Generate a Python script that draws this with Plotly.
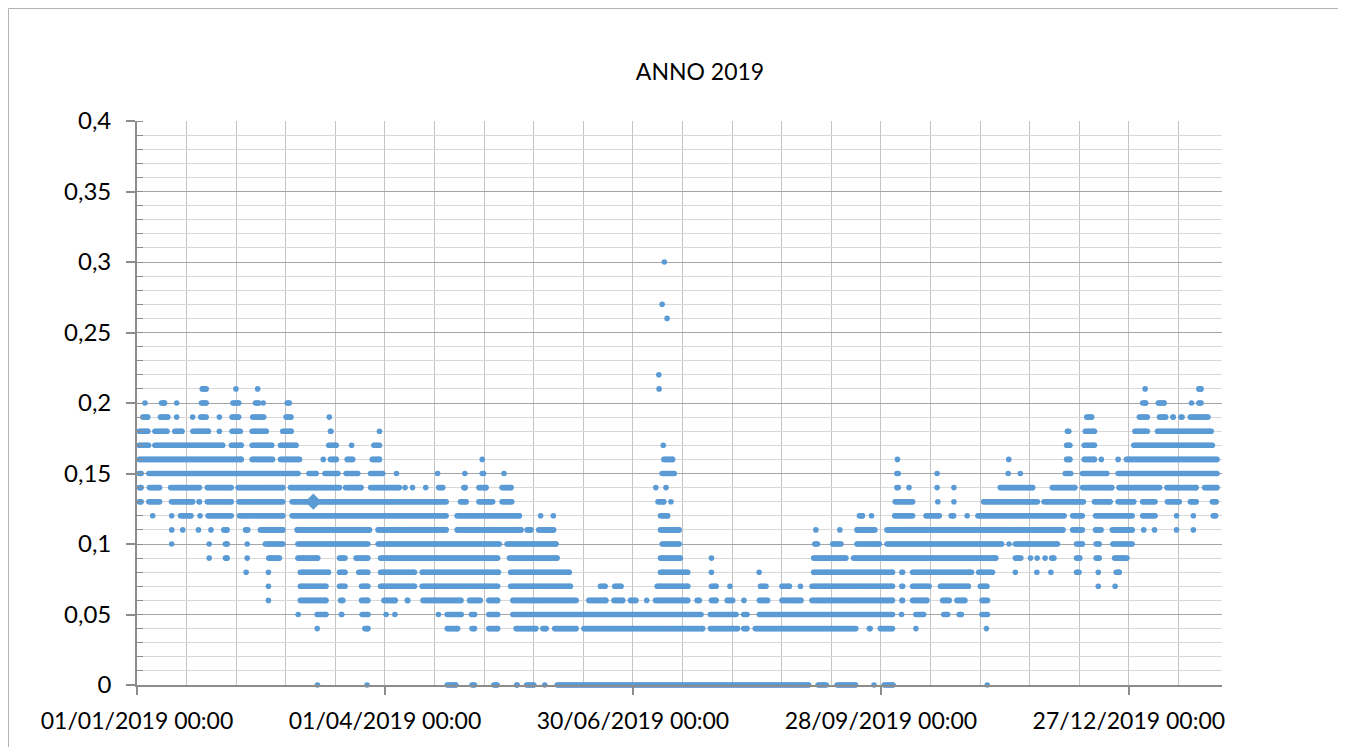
import numpy as np
import pandas as pd
import plotly.graph_objects as go

# Day offsets from 01/01/2019 00:00 at which each value level appears.
# Plain numbers = isolated readings, tuples = runs of consecutive readings.
lv030 = [191.4]
lv027 = [190.6]
lv026 = [192.4]
lv022 = [189.4]
lv021 = [(22.9, 25.9), 35.9, 43.8, 189.5, 365.9, (384.6, 387.0)]
lv020 = [2.9, (8.1, 10.8), 14.4, (22.6, 25.9), (34.0, 37.7), (42.2, 44.9), 45.8, (53.7, 56.1),
         (364.2, 366.9), (369.9, 373.6), (382.1, 383.4), (384.6, 387.0)]
lv019 = [(1.3, 4.7), (7.7, 12.0), 14.4, 20.2, (22.3, 25.9), 29.9, (33.7, 37.7), (41.2, 46.8),
         (53.3, 56.7), 69.8, (343.9, 347.3), (363.0, 367.5), (370.3, 374.2), (375.2, 376.9),
         (378.1, 380.1), (381.5, 389.5)]
lv018 = [(0.0, 4.7), (5.7, 11.7), (12.9, 17.1), (19.5, 26.7), 29.9, (33.7, 38.3), (41.0, 47.7),
         (52.1, 56.7), (69.4, 71.2), 88.0, (336.9, 339.0), (343.4, 348.3), (361.4, 367.5),
         (369.6, 390.7)]
lv017 = [(0.0, 5.0), (5.7, 31.9), (33.5, 38.6), (41.0, 49.7), (51.3, 58.5), (68.8, 73.1), 77.9,
         (85.2, 88.8), 191.0, (336.6, 339.4), (343.0, 348.3), (361.0, 391.1)]
lv016 = [(0.0, 38.6), (41.0, 50.0), (51.3, 59.8), 67.6, (69.4, 73.1), (75.5, 79.1), (84.6, 88.8),
         125.3, (190.4, 195.2), 276.0, 316.4, (336.6, 339.4), (343.0, 348.3), 350.0, 356.1,
         (358.3, 392.8)]
lv015 = [(0.0, 2.3), (3.5, 59.2), (61.6, 65.8), (67.4, 73.7), (75.1, 80.9), (84.0, 90.0), 94.2,
         109.1, 119.0, (124.5, 126.6), 133.2, (189.8, 195.8), (275.0, 277.1), 290.4,
         (315.6, 316.8), 320.6, (336.1, 339.7), (342.4, 352.8), (355.3, 392.8)]
lv014 = [(0.0, 2.3), (3.7, 9.0), (11.4, 23.5), (24.7, 35.0), (35.9, 53.7), (54.9, 74.3),
         (74.9, 82.1), (84.0, 96.0), 97.3, 100.0, 104.8, (108.7, 111.8), (117.8, 119.9),
         (123.3, 127.5), (131.7, 136.6), 188.3, 192.0, (275.0, 277.1), 280.2, 290.4, 296.5,
         (312.5, 325.9), (331.4, 341.2), (342.4, 354.6), (355.6, 372.0), (373.0, 385.2),
         (386.7, 392.8)]
lv013 = [(0.0, 2.3), (3.5, 9.0), (11.7, 21.0), (21.7, 23.5), (24.7, 35.0), (36.2, 53.7),
         (55.5, 113.0), (116.6, 120.2), (123.3, 129.9), (131.7, 136.8), (188.3, 192.0), 193.8,
         (274.4, 282.3), (289.9, 291.4), 296.5, (306.5, 327.6), (328.4, 344.3), (346.7, 354.0),
         (355.3, 362.6), (364.2, 370.3), (373.2, 379.1), (381.5, 385.2), (389.5, 392.5)]
lv012 = [5.7, (12.0, 13.2), (15.0, 20.4), (22.3, 23.5), (25.0, 35.0), (36.4, 53.7), (55.5, 113.0),
         (115.4, 139.6), 146.5, 151.1, (189.2, 193.4), (261.4, 264.1), 266.6, (274.2, 282.3),
         (285.6, 292.0), (294.7, 297.2), 301.3, (304.4, 337.3), (338.8, 343.9), (347.1, 362.0),
         (364.2, 370.3), 377.3, 383.4, (389.8, 392.3)]
lv011 = [(12.0, 13.2), 16.6, 22.3, (26.2, 27.5), (30.7, 33.5), (38.6, 41.0), (44.0, 53.7),
         (57.3, 85.2), (86.7, 113.0), (115.4, 140.2), (140.8, 143.8), (145.0, 152.0),
         (189.2, 197.6), 246.4, 255.1, (260.5, 268.6), (271.4, 336.9), (338.8, 343.9),
         (347.1, 350.7), (353.2, 362.0), 365.4, 369.3, 377.3, 383.4]
lv010 = [12.6, 26.2, (31.3, 33.5), (39.2, 40.8), (45.8, 53.7), (57.6, 84.6), (86.7, 132.3),
         (133.5, 152.9), (189.8, 197.6), (245.2, 247.8), (251.7, 256.3), (260.5, 270.2),
         (271.4, 314.6), 316.5, (318.0, 334.9), (340.2, 343.9), (347.3, 350.0), (353.4, 362.0)]
lv009 = [26.2, (31.3, 33.5), (39.2, 40.8), (47.0, 52.5), (57.6, 66.4), (72.7, 76.3), (78.7, 84.6),
         (87.6, 131.7), (134.4, 153.3), (189.2, 198.0), 208.5, (244.8, 258.1), (259.3, 312.5),
         (318.0, 321.6), 324.3, 326.7, (329.0, 330.2), (331.2, 333.6), (340.2, 343.0),
         (347.3, 350.0), (354.0, 360.1)]
lv008 = [39.6, 47.7, (58.5, 70.3), (72.7, 76.3), (79.7, 84.6), (87.6, 101.5), (102.7, 132.0),
         (134.8, 157.7), (189.2, 200.7), 208.5, 225.8, (244.8, 275.0), (276.8, 278.7),
         (280.7, 303.7), (304.7, 311.3), 318.8, 326.6, 331.7, (340.2, 342.7), 348.9,
         (354.6, 357.3)]
lv007 = [47.7, (58.5, 69.4), (72.7, 76.3), (80.7, 84.6), (87.6, 101.5), (102.7, 131.7),
         (134.8, 158.1), (167.4, 170.7), (172.6, 176.5), (188.0, 200.7), (207.7, 211.0), 215.2,
         (225.5, 229.1), (233.3, 237.6), 240.8, (244.2, 275.0), (276.8, 278.7), (280.7, 288.3),
         (290.8, 302.5), (305.3, 309.3), 348.9, 355.0]
lv006 = [47.7, (58.5, 69.4), (73.1, 75.5), (80.7, 84.6), (88.8, 94.5), (97.3, 99.1), (103.0, 118.4),
         (119.9, 125.4), (126.9, 131.7), (135.6, 160.2), (163.2, 171.0), (172.3, 177.1),
         (178.3, 181.9), 185.0, (187.4, 200.7), (202.5, 204.9), (207.7, 211.0), (213.4, 217.0),
         220.3, (225.1, 229.7), (233.3, 241.8), (244.2, 275.0), (276.8, 278.7), (280.7, 287.5),
         (291.6, 295.6), (296.8, 301.3), (305.9, 309.5)]
lv005 = [58.5, (64.6, 69.4), (73.4, 75.1), (80.9, 84.6), 90.4, 93.6, 109.4, (111.8, 118.4),
         (120.6, 123.3), (126.9, 131.7), (135.6, 205.5), (207.3, 218.2), (219.4, 222.2),
         (225.1, 275.0), 277.5, (281.9, 286.3), (292.0, 295.0), (297.6, 300.0), (305.9, 309.5)]
lv004 = [65.4, (81.9, 84.6), (111.8, 117.2), (120.8, 123.3), (126.9, 131.7), (136.8, 145.6),
         (146.5, 149.3), (150.8, 160.2), (161.4, 206.1), (207.3, 218.8), (219.4, 222.2),
         (223.6, 261.7), (265.0, 266.9), (269.0, 275.0), 282.7, 308.3]
lv000 = [65.5, 83.5, (111.8, 116.5), (120.8, 123.3), (128.7, 131.5), (137.0, 138.8),
         (140.6, 144.8), 148.0, (151.7, 244.6), (246.4, 251.0), (253.3, 261.6), 267.5,
         (270.4, 275.2), 308.6]

level_values = [0.30, 0.27, 0.26, 0.22, 0.21, 0.20, 0.19, 0.18, 0.17, 0.16, 0.15, 0.14, 0.13,
                0.12, 0.11, 0.10, 0.09, 0.08, 0.07, 0.06, 0.05, 0.04, 0.00]
level_runs = [lv030, lv027, lv026, lv022, lv021, lv020, lv019, lv018, lv017, lv016, lv015, lv014,
              lv013, lv012, lv011, lv010, lv009, lv008, lv007, lv006, lv005, lv004, lv000]

# Highlighted single reading (diamond marker)
mark_day = [64.0]
mark_value = [0.13]

title_text = "ANNO 2019"
start_date = "2019-01-01"
axis_days = 393.8

STEP = 0.5
xs, ys = [], []
for val, runs in zip(level_values, level_runs):
    for r in runs:
        if isinstance(r, tuple):
            s, e = r
            ins = min(0.8, (e - s) / 2)
            s, e = s + ins, e - ins
            d = list(np.arange(s, e, STEP)) + [e]
        else:
            d = [r]
        xs.extend(d)
        ys.extend([val] * len(d))

base = pd.Timestamp(start_date)
xdates = base + pd.to_timedelta(np.array(xs), unit="D")
mark_dates = base + pd.to_timedelta(np.array(mark_day), unit="D")

fig = go.Figure()
fig.add_trace(go.Scatter(
    x=xdates, y=ys, mode="markers", cliponaxis=False,
    marker=dict(size=5.6, color="#5b9bd5", line=dict(width=0)),
    showlegend=False, hoverinfo="skip"))
fig.add_trace(go.Scatter(
    x=mark_dates, y=mark_value, mode="markers", cliponaxis=False,
    marker=dict(size=12.5, symbol="diamond", color="#5b9bd5", line=dict(width=0)),
    showlegend=False))

# page body has an 8px margin, so the figure starts at (8, 8) of the window
W, H = 1338, 739
L, R, T, B = 129, 124, 113, 62
pw, ph = W - L - R, H - T - B

def px2x(p):
    return (p - L) / pw

def px2y(p):
    return (H - B - p) / ph

frame = dict(color="#b4b4b4", width=1)

day_ms = 86400000
fig.update_layout(
    width=W, height=H,
    margin=dict(l=L, r=R, t=T, b=B, pad=0),
    paper_bgcolor="white", plot_bgcolor="white",
    separators=",.",
    font=dict(family="Lato, 'Open Sans', sans-serif", size=23, color="#000000"),
    title=dict(text=title_text, x=692 / W, xref="container", xanchor="center",
               y=1 - 64 / H, yref="container", yanchor="middle",
               font=dict(size=23, color="#000000")),
    xaxis=dict(
        type="date",
        range=[base, base + pd.Timedelta(days=axis_days)],
        tick0=start_date, dtick=90 * day_ms, tickformat="%d/%m/%Y %H:%M",
        tickfont=dict(size=23),
        showgrid=True, gridcolor="#c4c4c4", gridwidth=1.2,
        showline=True, linecolor="#8c8c8c", linewidth=1.8,
        ticks="outside", ticklen=8, tickcolor="#8c8c8c", tickwidth=1.5,
        ticklabelstandoff=6,
        minor=dict(tick0=start_date, dtick=18 * day_ms, showgrid=True,
                   gridcolor="#c4c4c4", gridwidth=1.2, ticks=""),
        zeroline=False, fixedrange=True,
    ),
    yaxis=dict(
        range=[0, 0.4], dtick=0.05, tick0=0,
        tickfont=dict(size=24),
        showgrid=True, gridcolor="#a6a6a6", gridwidth=1,
        showline=True, linecolor="#8c8c8c", linewidth=1.8,
        ticks="outside", ticklen=9, tickcolor="#8c8c8c", tickwidth=1.5,
        ticklabelstandoff=10,
        minor=dict(dtick=0.01, showgrid=True, gridcolor="#d9d9d9", gridwidth=1,
                   ticks="inside", ticklen=6, tickcolor="#8c8c8c", tickwidth=1),
        zeroline=False, fixedrange=True,
    ),
    shapes=[
        dict(type="line", xref="paper", yref="paper",
             x0=px2x(0.5), x1=px2x(W), y0=px2y(0.5), y1=px2y(0.5), line=frame, layer="below"),
        dict(type="line", xref="paper", yref="paper",
             x0=px2x(0.5), x1=px2x(0.5), y0=px2y(0.5), y1=px2y(H), line=frame, layer="below"),
    ],
)

fig.write_html("out.html", config={"displayModeBar": False})
